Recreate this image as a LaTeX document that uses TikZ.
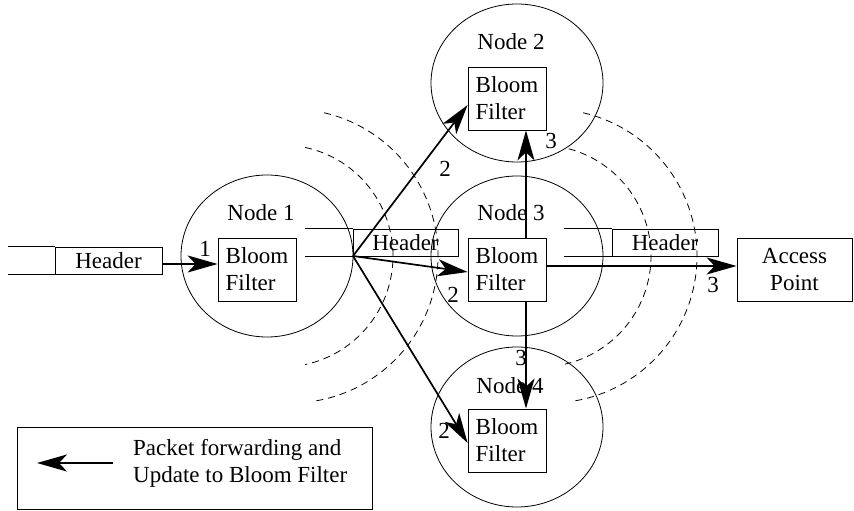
\documentclass[tikz,border=0pt]{standalone}
\usepackage{fontspec}
\setmainfont{Liberation Serif}
\usetikzlibrary{arrows.meta,shapes.geometric}
\begin{document}
\begin{tikzpicture}[x=1pt,y=1pt,
  every node/.style={font=\fontsize{23}{27}\selectfont, inner sep=0pt},
  ring/.style={draw, ellipse, line width=0.8pt, minimum width=172pt},
  bbox/.style={draw, line width=0.8pt, minimum width=78pt, minimum height=63pt, align=left},
  hdr/.style={draw, line width=0.8pt, minimum height=27pt},
  fwd/.style={-{Stealth[length=30pt,width=17pt,inset=8pt]}, line width=1.7pt},
  thin/.style={line width=0.8pt},
  dsh/.style={line width=0.8pt, dash pattern=on 7pt off 5pt}]
\useasboundingbox (0,0) rectangle (854,511);

% node circles
\node[ring, minimum height=162pt] (c1) at (267,255) {};
\node[ring, minimum height=158pt] (c2) at (517,428) {};
\node[ring, minimum height=160pt] (c3) at (517,255) {};
\node[ring, minimum height=160pt] (c4) at (517,84) {};

% circle labels
\node (l1) at (261,298) {Node 1};
\node (l2) at (511,469) {Node 2};
\node (l3) at (511,298) {Node 3};
\node (l4) at (510,125) {Node 4};

% bloom filter boxes
\node[bbox] (b1) at (257,241.5) {Bloom\\Filter};
\node[bbox] (b2) at (507,412.5) {Bloom\\Filter};
\node[bbox] (b3) at (507,241.5) {Bloom\\Filter};
\node[bbox] (b4) at (507,70.5) {Bloom\\Filter};
\node[draw, line width=0.8pt, minimum width=115pt, minimum height=63pt, align=center] (ap) at (794.5,241.5) {Access\\[0pt]Point};

% dashed wave fronts
\draw[dsh] ([shift={(282,255)}]78:111) arc[start angle=78, end angle=-78, radius=111];
\draw[dsh] ([shift={(291,255)}]77:147) arc[start angle=77, end angle=-81, radius=147];
\draw[dsh] ([shift={(540,255)}]75:111) arc[start angle=75, end angle=-77, radius=111];
\draw[dsh] ([shift={(550,255)}]77:147) arc[start angle=77, end angle=-81, radius=147];

% headers
\node[hdr, minimum width=107pt] (hL) at (108.5,250.5) {Header};
\draw[thin] (hL.north west) -- +(-47,0);
\draw[thin] (hL.south west) -- +(-47,0);
\node[hdr, minimum width=105pt] (hM) at (405.5,268.5) {Header};
\draw[thin] (hM.north west) -- +(-48,0);
\draw[thin] (hM.south west) -- +(-48,0);
\node[hdr, minimum width=106pt] (hR) at (665,268.5) {Header};
\draw[thin] (hR.north west) -- +(-48,0);
\draw[thin] (hR.south west) -- +(-48,0);

% forwarding arrows
\coordinate (src) at (353,255);
\draw[fwd] ([yshift=-3.5pt]hL.east) -- ([yshift=5.5pt]b1.west);
\draw[fwd] (src) -- ([yshift=-6.5pt]b2.west);
\draw[fwd] (src) -- ([yshift=-2.5pt]b3.west);
\draw[fwd] (src) -- ([yshift=-2.5pt]b4.west);
\draw[fwd] ([xshift=19pt]b3.north) -- ([xshift=19pt]b2.south);
\draw[fwd] ([xshift=19pt]b3.south) -- ([xshift=19pt]b4.north);
\draw[fwd] ([yshift=3.5pt]b3.east) -- ([yshift=3.5pt]ap.west);

% step numbers
\node (n1) at (205,262) {1};
\node (n2a) at (445,342.5) {2};
\node (n2b) at (453,216.5) {2};
\node (n2c) at (444,80) {2};
\node (n3a) at (551,369.5) {3};
\node (n3b) at (521,152.5) {3};
\node (n3c) at (713,226) {3};

% legend
\node[draw, line width=0.8pt, minimum width=355pt, minimum height=82pt] (leg) at (194.5,43) {};
\coordinate (la) at (113,48);
\coordinate (lb) at (37,48);
\draw[fwd] (la) -- (lb);
\node[anchor=west, align=left] (lt) at (133,47.7) {Packet forwarding and\\Update to Bloom Filter};
\end{tikzpicture}
\end{document}
